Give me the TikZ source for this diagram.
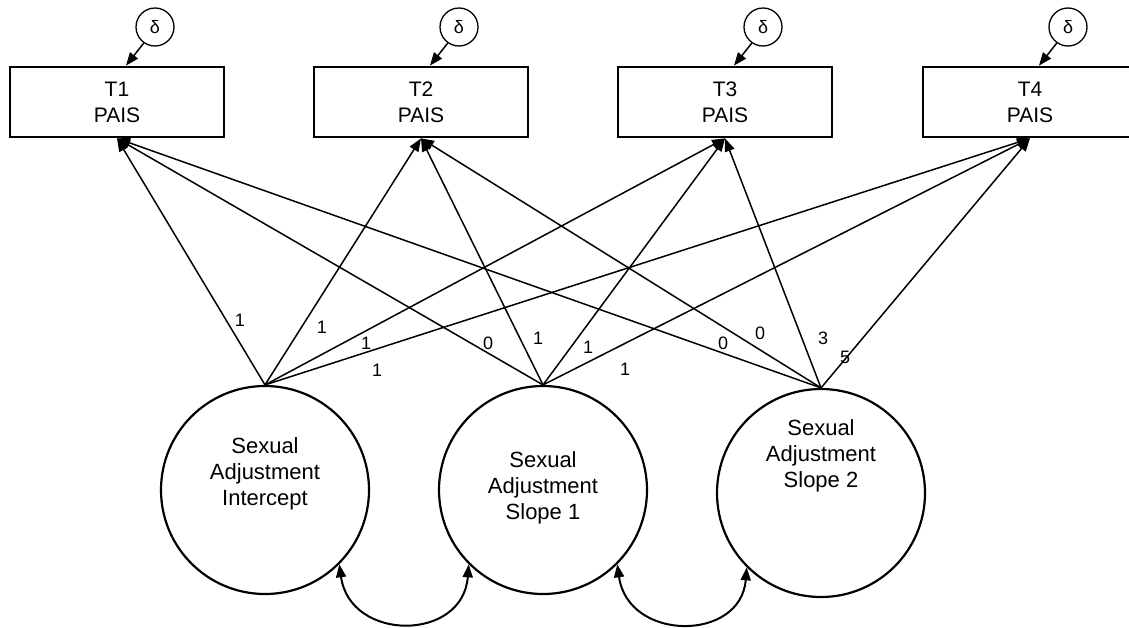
\documentclass[tikz,border=0pt]{standalone}
\usepackage{fontspec}
\setmainfont{Liberation Sans}
\usetikzlibrary{arrows.meta}

\tikzset{
  pais/.style={draw, line width=2.8pt, minimum width=214pt, minimum height=70pt,
    inner sep=0pt, align=center, font=\fontsize{21}{26}\selectfont},
  latent/.style={draw, circle, line width=2.2pt, minimum size=208pt, inner sep=0pt},
  latname/.style={align=center, font=\fontsize{22}{26}\selectfont},
  err/.style={draw, circle, line width=1.3pt, minimum size=38pt, inner sep=0pt,
    font=\fontsize{18}{18}\selectfont},
  load/.style={line width=1.5pt, -{Triangle[length=13pt,width=10pt]}},
  cov/.style={line width=2pt, {Triangle[length=13pt,width=10pt]}-{Triangle[length=13pt,width=10pt]}},
  coef/.style={font=\fontsize{18}{18}\selectfont, inner sep=0pt}
}

\begin{document}
\begin{tikzpicture}[x=1pt, y=-1pt]
    \useasboundingbox (0,0) rectangle (1129,627);
    % measured variables
    \node[pais] (p1) at (117,102) {T1\\PAIS};
    \node[pais] (p2) at (421,102) {T2\\PAIS};
    \node[pais] (p3) at (725,102) {T3\\PAIS};
    \node[pais] (p4) at (1030,102) {T4\\PAIS};
    % error terms
    \node[err] (d1) at (155,27) {δ};
    \node[err] (d2) at (459,27) {δ};
    \node[err] (d3) at (763,27) {δ};
    \node[err] (d4) at (1068,27) {δ};
    \draw[load] (d1.-125) -- ([xshift=9pt]p1.north);
    \draw[load] (d2.-125) -- ([xshift=9pt]p2.north);
    \draw[load] (d3.-125) -- ([xshift=9pt]p3.north);
    \draw[load] (d4.-125) -- ([xshift=9pt]p4.north);
    % growth factors
    \node[latent] (icpt) at (265,490) {};
    \node[latent] (slp1) at (543,490) {};
    \node[latent] (slp2) at (821,493) {};
    \node[latname] (ticpt) at (265,474) {Sexual\\Adjustment\\Intercept};
    \node[latname] (tslp1) at (543,488) {Sexual\\Adjustment\\Slope 1};
    \node[latname] (tslp2) at (821,456) {Sexual\\Adjustment\\Slope 2};
    % loadings
    \draw[load] (icpt.north) -- (p1.south);
    \draw[load] (icpt.north) -- (p2.south);
    \draw[load] (icpt.north) -- (p3.south);
    \draw[load] (icpt.north) -- (p4.south);
    \draw[load] (slp1.north) -- (p1.south);
    \draw[load] (slp1.north) -- (p2.south);
    \draw[load] (slp1.north) -- (p3.south);
    \draw[load] (slp1.north) -- (p4.south);
    \draw[load] (slp2.north) -- (p1.south);
    \draw[load] (slp2.north) -- (p2.south);
    \draw[load] (slp2.north) -- (p3.south);
    \draw[load] (slp2.north) -- (p4.south);
    \node[coef] (c11) at (240,320) {1};
    \node[coef] (c12) at (322,327) {1};
    \node[coef] (c13) at (366,343) {1};
    \node[coef] (c14) at (377,370) {1};
    \node[coef] (c21) at (488,343) {0};
    \node[coef] (c22) at (538,338) {1};
    \node[coef] (c23) at (588,347) {1};
    \node[coef] (c24) at (625,369) {1};
    \node[coef] (c31) at (723,343) {0};
    \node[coef] (c32) at (760,333) {0};
    \node[coef] (c33) at (823,338) {3};
    \node[coef] (c34) at (845,357) {5};
    % covariances
    \draw[cov] (icpt.-45) .. controls (350,642) and (463,642) .. (slp1.-135);
    \draw[cov] (slp1.-45) .. controls (628,642) and (741,642) .. (slp2.-135);
\end{tikzpicture}
\end{document}
